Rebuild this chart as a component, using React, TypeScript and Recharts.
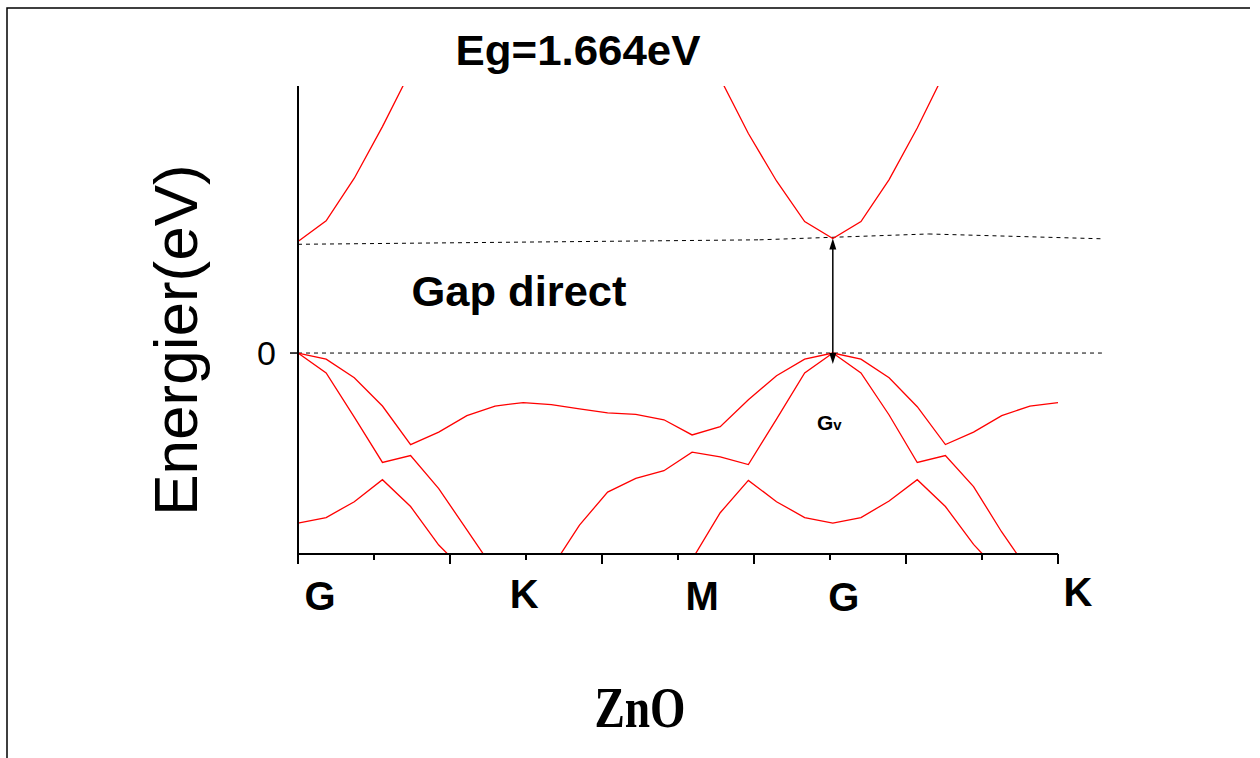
import React from 'react';
import { LineChart, Line, XAxis, YAxis, ReferenceLine } from 'recharts';

// k-path sample index (G -> K -> M -> G -> K)
const kPath = [0, 1, 2, 3, 4, 5, 6, 7, 8, 9, 10, 11, 12, 13, 14, 15, 16, 17, 18, 19, 20, 21, 22, 23, 24, 25, 26, 27];

// band energies in eV (null = outside the plotted window)
const valence1 = [0, -0.09, -0.36, -0.77, -1.33, -1.15, -0.91, -0.77, -0.72, -0.75, -0.81, -0.87, -0.89, -0.97, -1.19, -1.07, -0.68, -0.33, -0.09, 0, -0.09, -0.36, -0.78, -1.33, -1.15, -0.91, -0.77, -0.72];
const valence2 = [0, -0.29, -0.93, -1.59, -1.49, -1.97, -2.57, -3.17, null, -3.13, -2.5, -2.02, -1.82, -1.71, -1.44, -1.51, -1.62, -0.96, -0.29, 0, -0.29, -0.9, -1.59, -1.49, -1.94, -2.6, -3.19, null];
const valence3 = [-2.47, -2.39, -2.16, -1.84, -2.23, -2.79, -3.2, null, null, null, null, null, null, null, -3.0, -2.32, -1.85, -2.16, -2.39, -2.47, -2.39, -2.15, -1.84, -2.23, -2.78, -3.22, null, null];
const conduction = [1.62, 1.92, 2.54, 3.29, 4.1, null, null, null, null, null, null, null, null, null, null, 3.99, 3.19, 2.5, 1.91, 1.664, 1.91, 2.52, 3.27, 4.1, null, null, null, null];

// gap reference
const gapEnergy = 1.664;
const gapK = 19;
const gapGuideK = [0, 16.4, 22.4, 28.56];
const gapGuideE = [1.58, 1.645, 1.73, 1.66];
const fermiGuideK = [0, 28.56];

// axes
const xDomain = [0, 27];
const yDomain = [-2.92, 3.88];
const markTicks = [0, 2.7, 5.4, 8.1, 10.8, 13.5, 16.2, 18.9, 21.6, 24.3, 27];
const symPoints = [0, 8, 14, 19, 27];
const symLabels = ['G', 'K', 'M', 'G', 'K'];
const yTicks = [0];

const rows = kPath.map((k, i) => ({
  k,
  v1: valence1[i],
  v2: valence2[i],
  v3: valence3[i],
  c1: conduction[i],
}));

const allXTicks = Array.from(new Set([...markTicks, ...symPoints])).sort((a, b) => a - b);

// label placement nudges (px) for the high-symmetry point names
const symNudge = [
  { dx: 22, dy: 56 },
  { dx: 1, dy: 54 },
  { dx: 10, dy: 56 },
  { dx: 11, dy: 57 },
  { dx: 20, dy: 52 },
];

const FONT = 'Liberation Sans, Arial, sans-serif';
const RED = '#ff0000';

const XTick = (props: any) => {
  const { x, y, payload } = props;
  const v = payload.value;
  const mi = markTicks.indexOf(v);
  const si = symPoints.indexOf(v);
  return (
    <g>
      {mi >= 0 && (
        <line x1={x} x2={x} y1={y} y2={y + (mi % 2 === 0 ? 10 : 6)} stroke="#000" strokeWidth={2} />
      )}
      {si >= 0 && (
        <text
          x={x + symNudge[si].dx}
          y={y + symNudge[si].dy}
          textAnchor="middle"
          fontFamily={FONT}
          fontWeight="bold"
          fontSize={40}
          fill="#000"
        >
          {symLabels[si]}
        </text>
      )}
    </g>
  );
};

const GapArrow = (props: any) => {
  const { x1, y1, x2, y2 } = props;
  const x = (x1 + x2) / 2;
  const top = Math.min(y1, y2);
  const bottom = Math.max(y1, y2);
  return (
    <g>
      <line x1={x} x2={x} y1={top + 4} y2={bottom} stroke="#000" strokeWidth={1.5} />
      <polygon points={`${x},${top} ${x - 3.5},${top + 11} ${x + 3.5},${top + 11}`} fill="#000" />
      <polygon points={`${x - 3.5},${bottom} ${x + 3.5},${bottom} ${x},${bottom + 11}`} fill="#000" />
    </g>
  );
};

const dashed = { stroke: '#000', strokeWidth: 1, strokeDasharray: '4 4' };

export default function App() {
  return (
    <div style={{ position: 'absolute', left: 0, top: 0, width: 1260, height: 758, background: '#fff' }}>
      <LineChart
        width={1260}
        height={758}
        data={rows}
        margin={{ top: 86, right: 202, bottom: 144, left: 0 }}
      >
        <XAxis
          type="number"
          dataKey="k"
          domain={xDomain}
          ticks={allXTicks}
          interval={0}
          height={60}
          tickSize={0}
          tickMargin={0}
          tickLine={false}
          axisLine={{ stroke: '#000', strokeWidth: 2 }}
          tick={<XTick />}
        />
        <YAxis
          type="number"
          domain={yDomain}
          allowDataOverflow
          ticks={yTicks}
          width={298}
          tickSize={8}
          tickMargin={14}
          axisLine={{ stroke: '#000', strokeWidth: 2 }}
          tickLine={{ stroke: '#000', strokeWidth: 1.5 }}
          tick={{ fill: '#000', fontSize: 34, fontFamily: FONT }}
        />
        <ReferenceLine
          ifOverflow="visible"
          segment={[{ x: fermiGuideK[0], y: 0 }, { x: fermiGuideK[1], y: 0 }]}
          {...dashed}
        />
        {gapGuideK.slice(1).map((k, i) => (
          <ReferenceLine
            key={`gap-${i}`}
            ifOverflow="visible"
            segment={[{ x: gapGuideK[i], y: gapGuideE[i] }, { x: k, y: gapGuideE[i + 1] }]}
            {...dashed}
          />
        ))}
        <Line dataKey="v1" stroke={RED} strokeWidth={1.3} dot={false} isAnimationActive={false} />
        <Line dataKey="v2" stroke={RED} strokeWidth={1.3} dot={false} isAnimationActive={false} />
        <Line dataKey="v3" stroke={RED} strokeWidth={1.3} dot={false} isAnimationActive={false} />
        <Line dataKey="c1" stroke={RED} strokeWidth={1.3} dot={false} isAnimationActive={false} />
        <ReferenceLine
          ifOverflow="visible"
          segment={[{ x: gapK, y: 0 }, { x: gapK, y: gapEnergy }]}
          shape={<GapArrow />}
        />
      </LineChart>
      <svg
        width={1260}
        height={758}
        style={{ position: 'absolute', left: 0, top: 0, pointerEvents: 'none' }}
      >
        <polyline points="7,758 7,8 1250,8" fill="none" stroke="#000" strokeWidth={1.5} />
        <text x={578} y={65} textAnchor="middle" fontFamily={FONT} fontWeight="bold" fontSize={42} textLength={245} lengthAdjust="spacingAndGlyphs">
          Eg=1.664eV
        </text>
        <text x={519} y={306} textAnchor="middle" fontFamily={FONT} fontWeight="bold" fontSize={42} textLength={215} lengthAdjust="spacingAndGlyphs">
          Gap direct
        </text>
        <text x={817} y={430} fontFamily={FONT} fontWeight="bold" fontSize={21}>
          G<tspan fontSize={15}>v</tspan>
        </text>
        <text
          transform="translate(197,340) rotate(-90)"
          textAnchor="middle"
          fontFamily={FONT}
          fontSize={62}
        >
          Energier(eV)
        </text>
        <text x={640} y={727} textAnchor="middle" fontFamily="Liberation Serif, Times New Roman, serif" fontWeight="bold" fontSize={56} textLength={91} lengthAdjust="spacingAndGlyphs">
          ZnO
        </text>
      </svg>
    </div>
  );
}
